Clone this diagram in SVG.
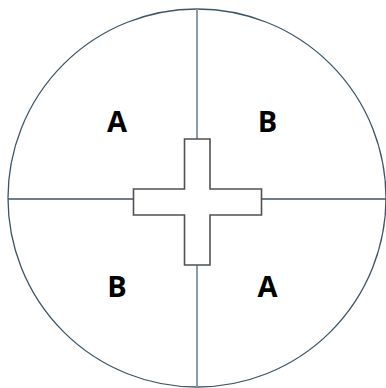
<svg xmlns="http://www.w3.org/2000/svg" width="386" height="388" viewBox="0 0 386 388">
<style>
.lbl{font-family:"Open Sans","Liberation Sans",sans-serif;font-weight:bold;font-size:29px;fill:#000;text-anchor:middle}
</style>
<rect width="386" height="388" fill="#fff"/>
<g id="circle"><circle cx="197" cy="198" r="189" fill="none" stroke="#3d5566" stroke-width="1.3"/></g>
<g id="connectors">
<line x1="197" y1="9" x2="197" y2="139" stroke="#8a9caa" stroke-width="2"/>
<line x1="197" y1="265" x2="197" y2="387" stroke="#8a9caa" stroke-width="2"/>
<line x1="8" y1="199" x2="133" y2="199" stroke="#3d5566" stroke-width="1.3"/>
<line x1="262" y1="199" x2="386" y2="199" stroke="#3d5566" stroke-width="1.3"/>
</g>
<g id="cross"><path d="M184.5 139H210V189H261.5V215H210V265H184.5V215H133.5V189H184.5Z" fill="#fff" stroke="#505050" stroke-width="1.6"/></g>
<g id="labels">
<text class="lbl" x="117" y="131.5">A</text>
<text class="lbl" x="267.5" y="131.5">B</text>
<text class="lbl" x="117" y="296.5">B</text>
<text class="lbl" x="267.5" y="296.5">A</text>
</g>
</svg>
